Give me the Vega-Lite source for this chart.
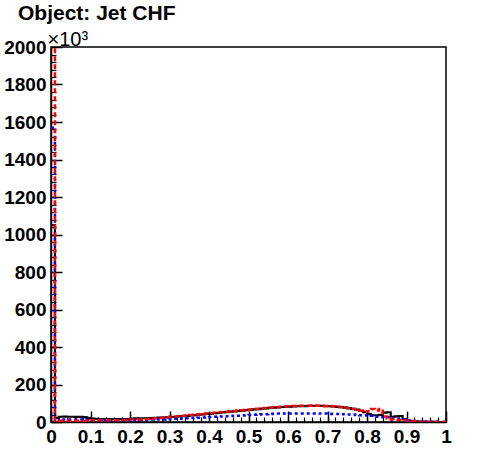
{
  "$schema": "https://vega.github.io/schema/vega-lite/v6.json",
  "autosize": "none",
  "width": 395,
  "height": 375,
  "padding": {"left": 51, "top": 47, "right": 50, "bottom": 50},
  "background": "white",
  "config": {
    "view": {"stroke": "black", "strokeWidth": 1.5},
    "axis": {"grid": false, "labelFont": "Liberation Sans", "labelFontWeight": "bold", "labelFontSize": 19, "labelColor": "black", "tickColor": "black", "domainColor": "black"}
  },
  "title": {"text": "Object: Jet CHF", "anchor": "start", "frame": "group", "dx": -33, "dy": 20, "offset": 8, "font": "Liberation Sans", "fontWeight": "bold", "fontSize": 21, "color": "black", "baseline": "alphabetic"},
  "datasets": {
    "k": [
      {"bin":0,"count":1050},{"bin":0.01,"count":22},{"bin":0.02,"count":28},{"bin":0.03,"count":29},{"bin":0.04,"count":28},{"bin":0.05,"count":28},{"bin":0.06,"count":27},{"bin":0.07,"count":27},{"bin":0.08,"count":26},{"bin":0.09,"count":22},
      {"bin":0.1,"count":18},{"bin":0.11,"count":17},{"bin":0.12,"count":16},{"bin":0.13,"count":16},{"bin":0.14,"count":15},{"bin":0.15,"count":15},{"bin":0.16,"count":15},{"bin":0.17,"count":15},{"bin":0.18,"count":16},{"bin":0.19,"count":16},
      {"bin":0.2,"count":18},{"bin":0.21,"count":19},{"bin":0.22,"count":19},{"bin":0.23,"count":20},{"bin":0.24,"count":20},{"bin":0.25,"count":21},{"bin":0.26,"count":22},{"bin":0.27,"count":23},{"bin":0.28,"count":24},{"bin":0.29,"count":25},
      {"bin":0.3,"count":27},{"bin":0.31,"count":28},{"bin":0.32,"count":30},{"bin":0.33,"count":31},{"bin":0.34,"count":33},{"bin":0.35,"count":35},{"bin":0.36,"count":37},{"bin":0.37,"count":39},{"bin":0.38,"count":41},{"bin":0.39,"count":43},
      {"bin":0.4,"count":45},{"bin":0.41,"count":47},{"bin":0.42,"count":49},{"bin":0.43,"count":51},{"bin":0.44,"count":53},{"bin":0.45,"count":55},{"bin":0.46,"count":57},{"bin":0.47,"count":59},{"bin":0.48,"count":61},{"bin":0.49,"count":63},
      {"bin":0.5,"count":65},{"bin":0.51,"count":67},{"bin":0.52,"count":69},{"bin":0.53,"count":71},{"bin":0.54,"count":73},{"bin":0.55,"count":75},{"bin":0.56,"count":77},{"bin":0.57,"count":78},{"bin":0.58,"count":80},{"bin":0.59,"count":81},
      {"bin":0.6,"count":82},{"bin":0.61,"count":83},{"bin":0.62,"count":84},{"bin":0.63,"count":85},{"bin":0.64,"count":85},{"bin":0.65,"count":86},{"bin":0.66,"count":86},{"bin":0.67,"count":86},{"bin":0.68,"count":86},{"bin":0.69,"count":85},
      {"bin":0.7,"count":84},{"bin":0.71,"count":83},{"bin":0.72,"count":81},{"bin":0.73,"count":79},{"bin":0.74,"count":77},{"bin":0.75,"count":74},{"bin":0.76,"count":70},{"bin":0.77,"count":66},{"bin":0.78,"count":60},{"bin":0.79,"count":52},
      {"bin":0.8,"count":42},{"bin":0.81,"count":36},{"bin":0.82,"count":36},{"bin":0.83,"count":38},{"bin":0.84,"count":50},{"bin":0.85,"count":52},{"bin":0.86,"count":28},{"bin":0.87,"count":30},{"bin":0.88,"count":32},{"bin":0.89,"count":15},
      {"bin":0.9,"count":8},{"bin":0.91,"count":5},{"bin":0.92,"count":3},{"bin":0.93,"count":2},{"bin":0.94,"count":2},{"bin":0.95,"count":1},{"bin":0.96,"count":1},{"bin":0.97,"count":1},{"bin":0.98,"count":0},{"bin":0.99,"count":0},
      {"bin":1,"count":0}
    ],
    "u": [
      {"bin":0,"count":1570},{"bin":0.01,"count":6},{"bin":0.02,"count":14},{"bin":0.03,"count":14},{"bin":0.04,"count":14},{"bin":0.05,"count":14},{"bin":0.06,"count":14},{"bin":0.07,"count":14},{"bin":0.08,"count":14},{"bin":0.09,"count":13},
      {"bin":0.1,"count":11},{"bin":0.11,"count":11},{"bin":0.12,"count":11},{"bin":0.13,"count":10},{"bin":0.14,"count":10},{"bin":0.15,"count":10},{"bin":0.16,"count":10},{"bin":0.17,"count":10},{"bin":0.18,"count":11},{"bin":0.19,"count":11},
      {"bin":0.2,"count":11},{"bin":0.21,"count":11},{"bin":0.22,"count":11},{"bin":0.23,"count":12},{"bin":0.24,"count":12},{"bin":0.25,"count":13},{"bin":0.26,"count":13},{"bin":0.27,"count":14},{"bin":0.28,"count":14},{"bin":0.29,"count":15},
      {"bin":0.3,"count":16},{"bin":0.31,"count":17},{"bin":0.32,"count":18},{"bin":0.33,"count":19},{"bin":0.34,"count":20},{"bin":0.35,"count":21},{"bin":0.36,"count":22},{"bin":0.37,"count":23},{"bin":0.38,"count":24},{"bin":0.39,"count":25},
      {"bin":0.4,"count":27},{"bin":0.41,"count":28},{"bin":0.42,"count":29},{"bin":0.43,"count":30},{"bin":0.44,"count":31},{"bin":0.45,"count":32},{"bin":0.46,"count":33},{"bin":0.47,"count":34},{"bin":0.48,"count":35},{"bin":0.49,"count":36},
      {"bin":0.5,"count":38},{"bin":0.51,"count":39},{"bin":0.52,"count":40},{"bin":0.53,"count":41},{"bin":0.54,"count":42},{"bin":0.55,"count":43},{"bin":0.56,"count":44},{"bin":0.57,"count":45},{"bin":0.58,"count":45},{"bin":0.59,"count":46},
      {"bin":0.6,"count":46},{"bin":0.61,"count":46},{"bin":0.62,"count":46},{"bin":0.63,"count":46},{"bin":0.64,"count":46},{"bin":0.65,"count":46},{"bin":0.66,"count":46},{"bin":0.67,"count":46},{"bin":0.68,"count":45},{"bin":0.69,"count":45},
      {"bin":0.7,"count":44},{"bin":0.71,"count":43},{"bin":0.72,"count":43},{"bin":0.73,"count":42},{"bin":0.74,"count":41},{"bin":0.75,"count":40},{"bin":0.76,"count":40},{"bin":0.77,"count":38},{"bin":0.78,"count":36},{"bin":0.79,"count":36},
      {"bin":0.8,"count":35},{"bin":0.81,"count":34},{"bin":0.82,"count":28},{"bin":0.83,"count":27},{"bin":0.84,"count":26},{"bin":0.85,"count":25},{"bin":0.86,"count":18},{"bin":0.87,"count":17},{"bin":0.88,"count":16},{"bin":0.89,"count":15},
      {"bin":0.9,"count":7},{"bin":0.91,"count":6},{"bin":0.92,"count":2},{"bin":0.93,"count":2},{"bin":0.94,"count":1},{"bin":0.95,"count":1},{"bin":0.96,"count":1},{"bin":0.97,"count":1},{"bin":0.98,"count":1},{"bin":0.99,"count":0},
      {"bin":1,"count":0}
    ],
    "r": [
      {"bin":0,"count":2100},{"bin":0.01,"count":8},{"bin":0.02,"count":7},{"bin":0.03,"count":7},{"bin":0.04,"count":7},{"bin":0.05,"count":7},{"bin":0.06,"count":7},{"bin":0.07,"count":7},{"bin":0.08,"count":7},{"bin":0.09,"count":8},
      {"bin":0.1,"count":10},{"bin":0.11,"count":10},{"bin":0.12,"count":10},{"bin":0.13,"count":10},{"bin":0.14,"count":10},{"bin":0.15,"count":10},{"bin":0.16,"count":10},{"bin":0.17,"count":11},{"bin":0.18,"count":11},{"bin":0.19,"count":12},
      {"bin":0.2,"count":13},{"bin":0.21,"count":13},{"bin":0.22,"count":14},{"bin":0.23,"count":15},{"bin":0.24,"count":16},{"bin":0.25,"count":18},{"bin":0.26,"count":20},{"bin":0.27,"count":22},{"bin":0.28,"count":24},{"bin":0.29,"count":26},
      {"bin":0.3,"count":28},{"bin":0.31,"count":29},{"bin":0.32,"count":31},{"bin":0.33,"count":33},{"bin":0.34,"count":35},{"bin":0.35,"count":37},{"bin":0.36,"count":39},{"bin":0.37,"count":41},{"bin":0.38,"count":43},{"bin":0.39,"count":45},
      {"bin":0.4,"count":47},{"bin":0.41,"count":49},{"bin":0.42,"count":51},{"bin":0.43,"count":53},{"bin":0.44,"count":55},{"bin":0.45,"count":57},{"bin":0.46,"count":59},{"bin":0.47,"count":61},{"bin":0.48,"count":63},{"bin":0.49,"count":65},
      {"bin":0.5,"count":67},{"bin":0.51,"count":69},{"bin":0.52,"count":71},{"bin":0.53,"count":73},{"bin":0.54,"count":75},{"bin":0.55,"count":77},{"bin":0.56,"count":79},{"bin":0.57,"count":80},{"bin":0.58,"count":82},{"bin":0.59,"count":83},
      {"bin":0.6,"count":84},{"bin":0.61,"count":85},{"bin":0.62,"count":86},{"bin":0.63,"count":87},{"bin":0.64,"count":87},{"bin":0.65,"count":87},{"bin":0.66,"count":88},{"bin":0.67,"count":87},{"bin":0.68,"count":87},{"bin":0.69,"count":86},
      {"bin":0.7,"count":85},{"bin":0.71,"count":84},{"bin":0.72,"count":82},{"bin":0.73,"count":80},{"bin":0.74,"count":77},{"bin":0.75,"count":74},{"bin":0.76,"count":70},{"bin":0.77,"count":65},{"bin":0.78,"count":60},{"bin":0.79,"count":55},
      {"bin":0.8,"count":58},{"bin":0.81,"count":70},{"bin":0.82,"count":62},{"bin":0.83,"count":70},{"bin":0.84,"count":30},{"bin":0.85,"count":20},{"bin":0.86,"count":14},{"bin":0.87,"count":12},{"bin":0.88,"count":11},{"bin":0.89,"count":10},
      {"bin":0.9,"count":6},{"bin":0.91,"count":5},{"bin":0.92,"count":4},{"bin":0.93,"count":2},{"bin":0.94,"count":2},{"bin":0.95,"count":1},{"bin":0.96,"count":1},{"bin":0.97,"count":1},{"bin":0.98,"count":1},{"bin":0.99,"count":0},
      {"bin":1,"count":0}
    ]
  },
  "layer": [
    {
      "data": {"name": "k"},
      "mark": {"type": "line", "interpolate": "step-after", "color": "black", "strokeWidth": 2.2, "clip": true},
      "encoding": {
        "x": {"field": "bin", "type": "quantitative", "scale": {"domain": [0, 1], "nice": false},
          "axis": {"orient": "bottom", "title": null, "values": [0,0.1,0.2,0.3,0.4,0.5,0.6,0.7,0.8,0.9,1], "format": ".1~f", "ticks": false, "domain": true, "domainWidth": 1.5, "labelPadding": 5, "labelFlush": false, "labelOverlap": false}},
        "y": {"field": "count", "type": "quantitative", "scale": {"domain": [0, 2000], "nice": false},
          "axis": {"orient": "left", "values": [0,200,400,600,800,1000,1200,1400,1600,1800,2000], "format": "d", "ticks": false, "domain": true, "domainWidth": 1.5, "labelPadding": 5, "labelFlush": false, "labelOverlap": false,
            "title": "×10³", "titleAngle": 0, "titleX": -4, "titleY": -2, "titleAlign": "left", "titleBaseline": "alphabetic", "titleFont": "Liberation Sans", "titleFontWeight": "normal", "titleFontSize": 20, "titleColor": "black"}}
      }
    },
    {
      "data": {"name": "u"},
      "mark": {"type": "line", "interpolate": "step-after", "color": "#0000ff", "strokeWidth": 2.5, "strokeDash": [3, 3], "clip": true},
      "encoding": {
        "x": {"field": "bin", "type": "quantitative",
          "axis": {"orient": "bottom", "title": null, "values": [0,0.1,0.2,0.3,0.4,0.5,0.6,0.7,0.8,0.9,1], "labels": false, "domain": false, "tickSize": -11, "tickWidth": 1.5}},
        "y": {"field": "count", "type": "quantitative",
          "axis": {"orient": "left", "title": null, "values": [0,200,400,600,800,1000,1200,1400,1600,1800,2000], "labels": false, "domain": false, "tickSize": -11, "tickWidth": 1.5}}
      }
    },
    {
      "data": {"name": "r"},
      "mark": {"type": "line", "interpolate": "step-after", "color": "#ff0000", "strokeWidth": 2.5, "strokeDash": [5, 3], "clip": true},
      "encoding": {
        "x": {"field": "bin", "type": "quantitative",
          "axis": {"orient": "bottom", "title": null, "values": [0,0.02,0.04,0.06,0.08,0.1,0.12,0.14,0.16,0.18,0.2,0.22,0.24,0.26,0.28,0.3,0.32,0.34,0.36,0.38,0.4,0.42,0.44,0.46,0.48,0.5,0.52,0.54,0.56,0.58,0.6,0.62,0.64,0.66,0.68,0.7,0.72,0.74,0.76,0.78,0.8,0.82,0.84,0.86,0.88,0.9,0.92,0.94,0.96,0.98,1], "labels": false, "domain": false, "tickSize": -5, "tickWidth": 1.2}},
        "y": {"field": "count", "type": "quantitative",
          "axis": {"orient": "left", "title": null, "values": [0,40,80,120,160,200,240,280,320,360,400,440,480,520,560,600,640,680,720,760,800,840,880,920,960,1000,1040,1080,1120,1160,1200,1240,1280,1320,1360,1400,1440,1480,1520,1560,1600,1640,1680,1720,1760,1800,1840,1880,1920,1960,2000], "labels": false, "domain": false, "tickSize": -5, "tickWidth": 1.2}}
      }
    }
  ],
  "resolve": {"axis": {"x": "independent", "y": "independent"}}
}
